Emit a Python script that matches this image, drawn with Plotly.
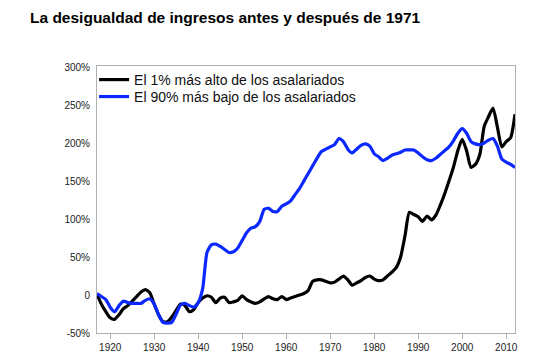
import plotly.graph_objects as go

years = list(range(1917, 2013))

top1 = [1, -12, -22, -30, -32, -26, -18, -14, -8, -2,
        4, 7, 3, -12, -26, -35, -35, -29, -20, -12,
        -14, -22, -19, -10, -4, -1, -3, -10, -4, -3,
        -10, -9, -7, -1, -6, -9, -11, -9, -5, -2,
        -5, -6, -2, -6, -4, -2, 0, 2, 6, 18,
        20, 20, 18, 16, 17, 21, 25, 20, 13, 16,
        19, 23, 25, 21, 19, 20, 25, 30, 36, 50,
        78, 109, 106, 103, 97, 104, 99, 105, 118, 133,
        150, 168, 190, 205, 190, 168, 172, 185, 222, 235,
        246, 221, 195, 202, 207, 238]

bottom90 = [2, -2, -6, -16, -22, -14, -8, -10, -11, -11,
            -11, -7, -5, -12, -26, -36, -37, -36, -25, -13,
            -11, -14, -16, -10, 8, 56, 66, 67, 64, 60,
            56, 57, 62, 72, 82, 88, 90, 97, 113, 114,
            110, 110, 117, 120, 124, 132, 140, 150, 160, 170,
            180, 189, 192, 195, 198, 206, 202, 192, 187, 192,
            197, 199, 196, 186, 182, 177, 180, 184, 186, 188,
            191, 191, 191, 187, 182, 178, 177, 180, 185, 190,
            195, 203, 213, 219, 213, 202, 199, 198, 200, 204,
            206, 196, 179, 175, 172, 168]

names = ["El 1% más alto de los asalariados", "El 90% más bajo de los asalariados"]
colors = ["#000000", "#0a28ff"]

ytickvals = [-50, 0, 50, 100, 150, 200, 250, 300]
yticktext = ["-50%", "0", "50%", "100%", "150%", "200%", "250%", "300%"]
xtickvals = list(range(1920, 2011, 10))

fig = go.Figure()
fig.add_trace(go.Scatter(x=years, y=top1, mode="lines", name=names[0], legend="legend",
                         line=dict(color=colors[0], width=3.2, shape="spline", smoothing=0.6)))
fig.add_trace(go.Scatter(x=years, y=bottom90, mode="lines", name=names[1], legend="legend2",
                         line=dict(color=colors[1], width=3.2, shape="spline", smoothing=0.6)))

W, H = 550, 363
legfont = dict(family="Liberation Sans", size=14, color="#111")
fig.update_layout(
    width=W, height=H,
    margin=dict(l=89, r=43, t=58, b=38),
    paper_bgcolor="white", plot_bgcolor="white",
    title=dict(text="<b>La desigualdad de ingresos antes y después de 1971</b>",
               x=22/W, xanchor="left", y=1-10/H, yanchor="middle",
               font=dict(family="Liberation Sans", size=15.5, color="#000")),
    showlegend=True,
    legend=dict(x=-0.007, y=1.0075, xanchor="left", yanchor="top",
                bgcolor="rgba(0,0,0,0)", font=legfont, itemwidth=30),
    legend2=dict(x=-0.007, y=0.944, xanchor="left", yanchor="top",
                 bgcolor="rgba(0,0,0,0)", font=legfont, itemwidth=30),
    xaxis=dict(range=[1917, 2012], tickvals=xtickvals, showgrid=False, zeroline=False,
               showline=True, linecolor="#b0b0b0", linewidth=1, mirror=True,
               ticks="outside", ticklen=5, tickcolor="#b0b0b0",
               tickfont=dict(family="Liberation Sans Narrow, Liberation Sans", size=10, color="#222")),
    yaxis=dict(range=[-50, 301.5], tickvals=ytickvals, ticktext=yticktext,
               showgrid=False, zeroline=False,
               showline=True, linecolor="#b0b0b0", linewidth=1, mirror=True,
               ticks="", ticklabelstandoff=4,
               tickfont=dict(family="Liberation Sans Narrow, Liberation Sans", size=10, color="#222")),
)

fig.write_html("out.html")
